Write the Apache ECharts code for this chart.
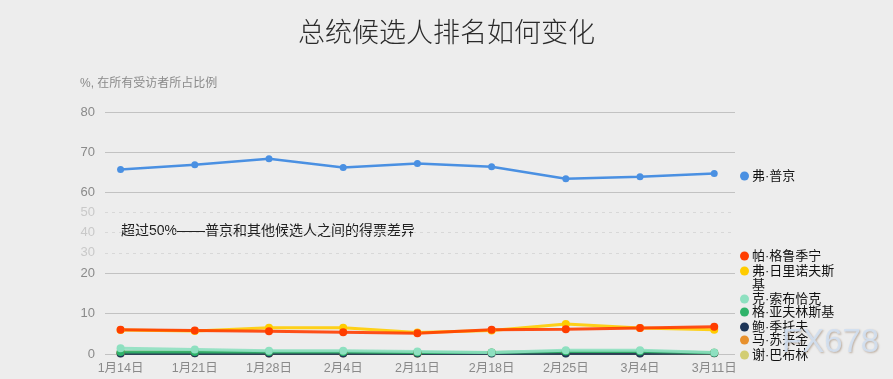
<!DOCTYPE html>
<html>
<head>
<meta charset="utf-8">
<script src="https://cdn.jsdelivr.net/npm/echarts@6/dist/echarts.min.js"></script>
<style>
html,body{margin:0;padding:0;background:#ededed;}
#c{width:893px;height:379px;}
</style>
</head>
<body>
<div id="c"></div>
<script>
var dates = ['1月14日','1月21日','1月28日','2月4日','2月11日','2月18日','2月25日','3月4日','3月11日'];
var putin = [65.6, 66.8, 68.3, 66.1, 67.1, 66.3, 63.3, 63.8, 64.6];
var grudinin = [6.0, 5.8, 5.6, 5.4, 5.1, 6.0, 6.1, 6.4, 6.7];
var zhirinovsky = [5.9, 5.7, 6.5, 6.5, 5.3, 5.8, 7.4, 6.4, 6.0];
var sobchak = [1.4, 1.1, 0.8, 0.8, 0.6, 0.4, 0.9, 0.9, 0.4];
var yavlinsky = [0.5, 0.5, 0.5, 0.5, 0.4, 0.4, 0.6, 0.6, 0.3];
var titov = [0.1, 0.2, 0.1, 0.1, 0.1, 0.1, 0.1, 0.1, 0.2];
var suraykin = [0.3, 0.3, 0.2, 0.2, 0.2, 0.3, 0.3, 0.3, 0.3];
var baburin = [0.2, 0.2, 0.2, 0.2, 0.1, 0.2, 0.2, 0.2, 0.2];
var topTicks = [60, 70, 80];
var midTicks = [30, 40, 50];
var lowTicks = [0, 10, 20];

var names = {
  putin: '弗·普京', grudinin: '帕·格鲁季宁', zhirinovsky: '弗·日里诺夫斯基',
  sobchak: '克·索布恰克', yavlinsky: '格·亚夫林斯基', titov: '鲍·季托夫',
  suraykin: '马·苏来金', baburin: '谢·巴布林'
};
var colors = {
  putin: '#4a90e2', grudinin: '#ff3d00', zhirinovsky: '#ffcc00',
  sobchak: '#8ee0c0', yavlinsky: '#2fb36a', titov: '#1d3557',
  suraykin: '#e8912d', baburin: '#d2cd72'
};

function pairs(arr){ return arr.map(function(v,i){ return [i, v]; }); }

var FONT = '"Liberation Sans", "Noto Sans CJK SC", sans-serif';
var xMin = -0.21, xMax = 8.28;

function xAx(idx, showLabels){
  return {
    type: 'value', gridIndex: idx, min: xMin, max: xMax,
    axisLine: {show: false}, axisTick: {show: false}, splitLine: {show: false},
    axisLabel: showLabels ? {
      show: true, customValues: dates.map(function(d,i){return i;}),
      formatter: function(v){ return dates[Math.round(v)]; },
      color: '#8a8a8a', fontSize: 12.5, fontFamily: FONT, margin: 8
    } : {show: false}
  };
}
function yAx(idx, mn, mx, labelColor, lineStyle, hideEnds, showMinLbl, showMaxLbl){
  return {
    type: 'value', gridIndex: idx, min: mn, max: mx, interval: 10,
    axisLine: {show: false}, axisTick: {show: false},
    axisLabel: {color: labelColor, fontSize: 13, fontFamily: FONT, margin: 10,
      showMinLabel: showMinLbl, showMaxLabel: showMaxLbl},
    splitLine: {show: true, lineStyle: lineStyle, showMinLine: !hideEnds, showMaxLine: !hideEnds}
  };
}

var lowOrder = ['baburin','suraykin','titov','yavlinsky','sobchak','zhirinovsky','grudinin'];
var dataMap = {grudinin: grudinin, zhirinovsky: zhirinovsky, sobchak: sobchak, yavlinsky: yavlinsky,
  titov: titov, suraykin: suraykin, baburin: baburin};

var series = [{
  name: names.putin, type: 'line', xAxisIndex: 0, yAxisIndex: 0,
  data: pairs(putin), symbol: 'circle', symbolSize: 7,
  lineStyle: {width: 2.5, color: colors.putin}, itemStyle: {color: colors.putin}, z: 3
}];
lowOrder.forEach(function(k){
  series.push({
    name: names[k], type: 'line', xAxisIndex: 2, yAxisIndex: 2,
    data: pairs(dataMap[k]), symbol: 'circle', symbolSize: 8,
    lineStyle: {width: 3, color: colors[k], opacity: 0.9}, itemStyle: {color: colors[k]}
  });
});

function legendItem(name, top, formatter){
  var l = {
    data: [name], orient: 'vertical', left: 740, top: top, padding: 0,
    itemWidth: 9, itemHeight: 9, icon: 'circle', itemGap: 0, selectedMode: false,
    textStyle: {color: '#111', fontSize: 13, fontFamily: FONT, lineHeight: 14, padding: [0,0,0,-2]}
  };
  if (formatter) l.formatter = formatter;
  return l;
}
var legends = [
  legendItem(names.putin, 169),
  legendItem(names.grudinin, 249),
  legendItem(names.zhirinovsky, 250, function(){ return '\n弗·日里诺夫斯\n基'; }),
  legendItem(names.sobchak, 292),
  legendItem(names.yavlinsky, 305),
  legendItem(names.titov, 320),
  legendItem(names.suraykin, 333),
  legendItem(names.baburin, 348)
];

var chart = echarts.init(document.getElementById('c'));
chart.setOption({
  backgroundColor: '#ededed',
  animation: false,
  title: {
    text: '总统候选人排名如何变化', left: 'center', top: 13,
    textStyle: {fontSize: 27, fontWeight: 300, color: '#2a2a2a', fontFamily: '"Noto Sans CJK SC", sans-serif'}
  },
  grid: [
    {left: 105, right: 158, top: 112, height: 80},
    {left: 105, right: 158, top: 192, height: 81},
    {left: 105, right: 158, top: 273, height: 81}
  ],
  xAxis: [xAx(0, false), xAx(1, false), xAx(2, true)],
  yAxis: [
    yAx(0, topTicks[0], topTicks[2], '#8a8a8a', {color: '#c2c2c2', width: 1}, false, true, true),
    yAx(1, lowTicks[2], topTicks[0], '#c9c9c9', {color: '#d8d8d8', width: 1, type: [3,4]}, true, false, false),
    yAx(2, lowTicks[0], lowTicks[2], '#8a8a8a', {color: '#c2c2c2', width: 1}, false, true, true)
  ],
  legend: legends,
  series: series,
  graphic: [
    {type: 'text', left: 80, top: 78, style: {text: '%, 在所有受访者所占比例', fill: '#8a8a8a', fontSize: 12, fontFamily: FONT}},
    {type: 'text', left: 121, top: 224, style: {text: '超过50%——普京和其他候选人之间的得票差异', fill: '#222', fontSize: 14, fontFamily: FONT}},
    {type: 'text', left: 782, top: 326, z: 100, style: {text: 'FX678', fill: 'rgba(210,224,242,0.9)', fontSize: 33, fontFamily: FONT,
      textShadowColor: 'rgba(140,110,80,0.55)', textShadowOffsetX: 1, textShadowOffsetY: 1, textShadowBlur: 2}}
  ]
});
</script>
</body>
</html>
